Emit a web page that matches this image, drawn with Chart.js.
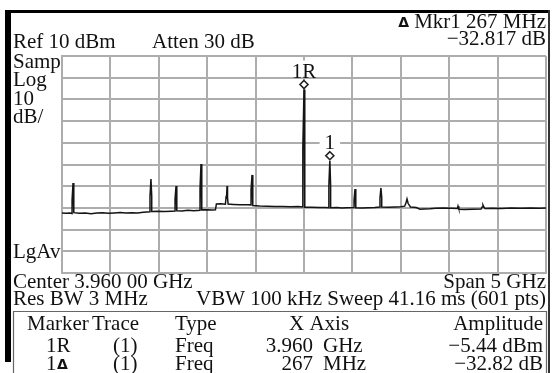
<!DOCTYPE html>
<html>
<head>
<meta charset="utf-8">
<script src="https://cdn.jsdelivr.net/npm/chart.js@4"></script>
<style>
  html, body { margin: 0; padding: 0; background: #fff; }
  #wrap { width: 552px; height: 373px; position: relative; }
</style>
</head>
<body>
<div id="wrap"><canvas id="spectrum" width="552" height="373"></canvas></div>
<script>
// Analyzer settings
const centerGHz = 3.96;
const spanGHz = 5;
const refLevel = 10;
const dbPerDiv = 10;
const divisions = 10;

// Trace (1): frequency in GHz, level in dBm
const freqGHz = [
  1.460, 1.500, 1.540, 1.564, 1.564, 1.574, 1.582, 1.582, 1.640, 1.700,
  1.760, 1.820, 1.880, 1.940, 2.000, 2.060, 2.120, 2.180, 2.240, 2.300,
  2.369, 2.369, 2.379, 2.387, 2.387, 2.450, 2.520, 2.590, 2.628, 2.628,
  2.638, 2.646, 2.646, 2.700, 2.760, 2.820, 2.886, 2.886, 2.896, 2.904,
  2.904, 2.960, 3.010, 3.045, 3.055, 3.100, 3.148, 3.155, 3.160, 3.165,
  3.170, 3.176, 3.230, 3.300, 3.380, 3.413, 3.413, 3.423, 3.431, 3.431,
  3.500, 3.580, 3.660, 3.740, 3.820, 3.900, 3.948, 3.948, 3.960, 3.968,
  3.968, 4.040, 4.120, 4.180, 4.217, 4.217, 4.227, 4.235, 4.235, 4.300,
  4.350, 4.400, 4.477, 4.477, 4.487, 4.495, 4.495, 4.560, 4.620, 4.690,
  4.745, 4.745, 4.755, 4.763, 4.763, 4.830, 4.900, 4.960, 5.000, 5.012,
  5.024, 5.036, 5.060, 5.120, 5.158, 5.200, 5.260, 5.320, 5.400, 5.480,
  5.545, 5.551, 5.560, 5.620, 5.700, 5.790, 5.800, 5.809, 5.818, 5.830,
  5.900, 6.000, 6.100, 6.200, 6.300, 6.400, 6.460
];
const levelDbm = [
  -62.3, -62.5, -62.4, -62.6, -56.4, -48.5, -56.0, -62.2, -62.5, -62.3,
  -62.7, -62.4, -62.2, -62.5, -62.3, -62.1, -62.4, -62.2, -62.3, -62.0,
  -61.8, -54.9, -46.7, -54.6, -61.7, -61.6, -61.7, -61.5, -61.4, -55.9,
  -49.9, -55.6, -61.3, -61.4, -61.1, -61.3, -61.1, -50.8, -39.8, -50.5,
  -60.9, -60.8, -61.0, -60.9, -58.2, -58.1, -58.3, -55.0, -55.2, -49.9,
  -55.2, -58.2, -58.4, -58.6, -58.5, -58.6, -51.8, -44.8, -51.6, -58.9,
  -59.1, -59.2, -59.3, -59.4, -59.5, -59.4, -59.6, -32.4, -5.44, -32.8,
  -59.7, -59.7, -59.8, -59.8, -59.9, -49.4, -38.26, -49.6, -59.9, -59.8,
  -60.0, -59.9, -59.8, -56.4, -51.3, -56.2, -59.9, -60.1, -59.9, -59.8,
  -59.6, -55.4, -50.8, -55.2, -59.6, -59.7, -59.6, -59.5, -59.2, -57.9,
  -55.9, -58.0, -59.6, -59.8, -60.6, -60.5, -60.4, -60.2, -60.1, -60.2,
  -60.3, -59.2, -60.6, -60.7, -60.6, -60.5, -59.6, -58.7, -59.6, -60.3,
  -60.2, -60.3, -60.1, -60.2, -60.1, -60.2, -60.1
];

// Markers: 1R (reference) and 1 (delta)
const markerNames = ['1R', '1'];
const markerFreqGHz = [3.960, 4.227];
const markerLevelDbm = [-5.44, -38.26];

const startGHz = centerGHz - spanGHz / 2;
const stopGHz = centerGHz + spanGHz / 2;
const freqGrid = [];
for (let i = 0; i <= divisions; i++) freqGrid.push(startGHz + i * spanGHz / divisions);

const SERIF = '21px "Liberation Serif", "Times New Roman", serif';
const GRID = '#adadad';

function txt(ctx, s, x, y, align) {
    ctx.textAlign = align || 'left';
    ctx.fillText(s, x, y);
}

// Frame and all the analyzer annotations
const screenPlugin = {
    id: 'screen',
    beforeDraw(chart) {
        const ctx = chart.ctx;
        ctx.save();
        ctx.fillStyle = '#fff';
        ctx.fillRect(0, 0, chart.width, chart.height);
        ctx.restore();
    },
    afterDatasetsDraw(chart) {
        const ctx = chart.ctx;
        const xs = chart.scales.x, ys = chart.scales.y;
        ctx.save();

        // marker diamonds and labels
        ctx.font = SERIF;
        ctx.textBaseline = 'alphabetic';
        markerNames.forEach((name, i) => {
            const px = xs.getPixelForValue(markerFreqGHz[i]);
            const py = ys.getPixelForValue(markerLevelDbm[i]);
            const cy = py - 5;
            const w = ctx.measureText(name).width;
            ctx.fillStyle = '#fff';
            ctx.fillRect(px - w / 2 - 5, cy - 24, w + 10, 16);
            ctx.fillStyle = '#111';
            txt(ctx, name, px, cy - 7, 'center');
            ctx.beginPath();
            ctx.moveTo(px, cy - 4);
            ctx.lineTo(px + 4, cy);
            ctx.lineTo(px, cy + 4);
            ctx.lineTo(px - 4, cy);
            ctx.closePath();
            ctx.fillStyle = '#fff';
            ctx.fill();
            ctx.lineWidth = 1.6;
            ctx.strokeStyle = '#222';
            ctx.stroke();
        });

        // outer frame
        ctx.fillStyle = '#000';
        ctx.fillRect(5, 10, 545, 3);
        ctx.fillRect(5, 10, 6, 352);
        ctx.fillStyle = '#333';
        ctx.fillRect(548, 10, 2, 363);

        // marker table box
        ctx.strokeStyle = '#666';
        ctx.lineWidth = 1.2;
        ctx.beginPath();
        ctx.moveTo(13.5, 380);
        ctx.lineTo(13.5, 311.5);
        ctx.lineTo(546.5, 311.5);
        ctx.lineTo(546.5, 380);
        ctx.stroke();

        ctx.fillStyle = '#111';
        ctx.font = SERIF;
        txt(ctx, 'Ref 10 dBm', 13, 48);
        txt(ctx, 'Atten 30 dB', 152, 48);
        txt(ctx, 'Mkr1 267 MHz', 546, 28, 'right');
        const mw = ctx.measureText('Mkr1 267 MHz').width;
        txt(ctx, '\u221232.817 dB', 546, 45, 'right');
        txt(ctx, 'Samp', 13, 68);
        txt(ctx, 'Log', 13, 86);
        txt(ctx, '10', 13, 105);
        txt(ctx, 'dB/', 13, 123);
        txt(ctx, 'LgAv', 13, 258);
        txt(ctx, 'Center 3.960 00 GHz', 13, 288);
        txt(ctx, 'Span 5 GHz', 546, 288, 'right');
        txt(ctx, 'Res BW 3 MHz', 13, 305);
        txt(ctx, 'VBW 100 kHz Sweep 41.16 ms (601 pts)', 546, 305, 'right');

        txt(ctx, 'Marker', 27, 330);
        txt(ctx, 'Trace', 92, 330);
        txt(ctx, 'Type', 175, 330);
        txt(ctx, 'X Axis', 289, 330);
        txt(ctx, 'Amplitude', 543, 330, 'right');

        txt(ctx, '1R', 46, 352);
        txt(ctx, '(1)', 113, 352);
        txt(ctx, 'Freq', 175, 352);
        txt(ctx, '3.960', 313, 352, 'right');
        txt(ctx, 'GHz', 323, 352);
        txt(ctx, '\u22125.44 dBm', 543, 352, 'right');

        txt(ctx, '1', 46, 370);
        txt(ctx, '(1)', 113, 370);
        txt(ctx, 'Freq', 175, 370);
        txt(ctx, '267', 313, 370, 'right');
        txt(ctx, 'MHz', 323, 370);
        txt(ctx, '\u221232.82 dB', 543, 370, 'right');

        // delta glyphs
        ctx.font = 'bold 14px "DejaVu Sans", sans-serif';
        txt(ctx, '\u0394', 546 - mw - 5, 27, 'right');
        txt(ctx, '\u0394', 57, 369);
        ctx.restore();
    }
};

new Chart(document.getElementById('spectrum'), {
    type: 'scatter',
    data: {
        datasets: [{
            label: 'Trace 1',
            data: freqGHz.map((f, i) => ({ x: f, y: levelDbm[i] })),
            showLine: true,
            borderColor: '#141414',
            borderWidth: 1.5,
            pointRadius: 0,
            tension: 0
        }]
    },
    options: {
        responsive: false,
        animation: false,
        devicePixelRatio: 1,
        layout: { padding: { left: 62, top: 56, right: 6, bottom: 100 } },
        plugins: { legend: { display: false }, tooltip: { enabled: false } },
        scales: {
            x: {
                type: 'linear',
                min: startGHz,
                max: stopGHz,
                afterBuildTicks: (scale) => { scale.ticks = freqGrid.map(v => ({ value: v })); },
                ticks: { display: false },
                grid: { color: GRID, lineWidth: 2, drawTicks: false },
                border: { color: GRID, width: 2 }
            },
            y: {
                min: refLevel - dbPerDiv * divisions,
                max: refLevel,
                ticks: { display: false, stepSize: dbPerDiv },
                grid: { color: GRID, lineWidth: 2, drawTicks: false },
                border: { color: GRID, width: 2 }
            }
        }
    },
    plugins: [screenPlugin]
});
</script>
</body>
</html>
